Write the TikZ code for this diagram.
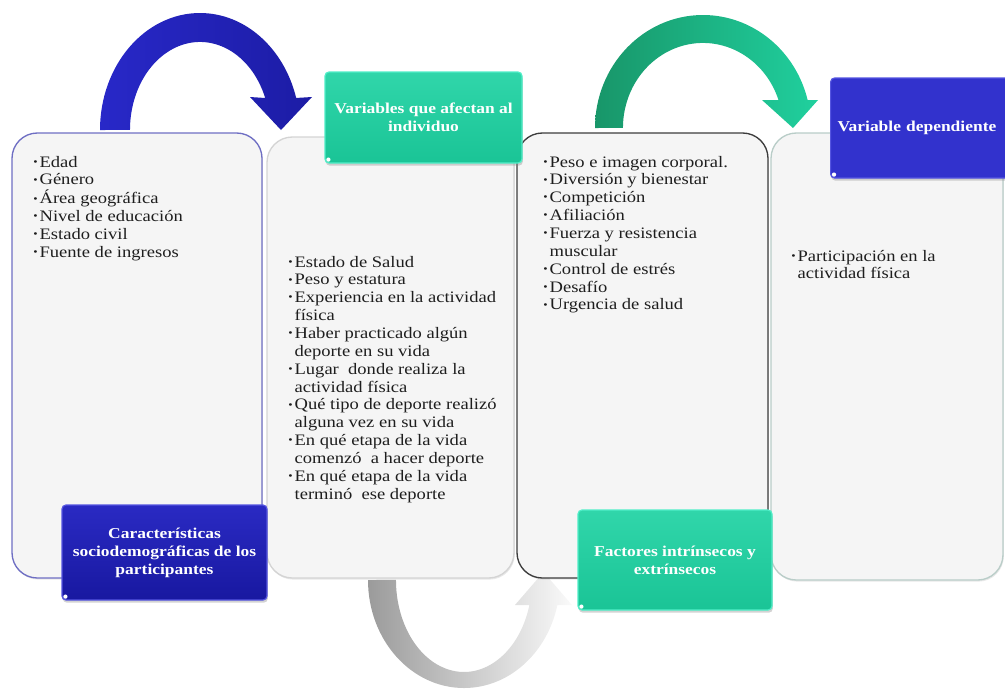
\documentclass[tikz,border=0pt]{standalone}
\usepackage{fontspec}
\setmainfont{Liberation Serif}[FakeStretch=1.16]
\usetikzlibrary{shadows}
\definecolor{boxfill}{RGB}{245,245,245}
\definecolor{txtgray}{RGB}{30,30,30}
\definecolor{b1line}{RGB}{110,110,195}
\definecolor{b2line}{RGB}{212,212,212}
\definecolor{b3line}{RGB}{60,60,60}
\definecolor{b4line}{RGB}{185,205,200}
\definecolor{tealtop}{RGB}{48,214,170}
\definecolor{tealbot}{RGB}{26,196,150}
\definecolor{tealline}{RGB}{80,238,200}
\definecolor{bluedep}{RGB}{50,50,205}
\definecolor{bluedepline}{RGB}{85,85,225}
\definecolor{bluetop}{RGB}{42,42,195}
\definecolor{bluebot}{RGB}{24,24,160}
\definecolor{arcblueL}{RGB}{40,40,200}
\definecolor{arcblueR}{RGB}{28,28,165}
\definecolor{arcgreenL}{RGB}{24,150,105}
\definecolor{arcgreenR}{RGB}{32,208,158}
\definecolor{arcgrayL}{RGB}{155,155,155}
\definecolor{arcgrayR}{RGB}{250,250,250}
\newcommand{\bul}{\raisebox{1.4pt}{\fontsize{8}{8}\selectfont •}}
\begin{document}
\begin{tikzpicture}[x=0.75pt,y=-0.75pt,
  bigbox/.style={rectangle, rounded corners=19pt, fill=boxfill, line width=1pt,
    drop shadow={shadow xshift=0.6pt, shadow yshift=-1.2pt, opacity=0.18}},
  lbl/.style={rectangle, rounded corners=3pt, text=white, line width=0.9pt,
    font=\bfseries\fontsize{11.3}{13.5}\selectfont, align=center, inner sep=0pt,
    drop shadow={shadow xshift=0.6pt, shadow yshift=-2pt, opacity=0.35}},
  listtxt/.style={inner sep=0pt, anchor=base west, text=txtgray,
    font=\fontsize{12}{13.4}\selectfont}
]
\useasboundingbox (0,0) rectangle (1005,690);
\clip (0,0) rectangle (1005,690);

% curved arrows (behind boxes)
\path[left color=arcblueL, right color=arcblueR]
  (100,130) arc[start angle=180, end angle=15.9, x radius=75pt, y radius=87.75pt]
  -- (312,97) -- (281,130) -- (250,97) -- (265.2,98)
  arc[start angle=21.3, end angle=180, x radius=52.5pt, y radius=66pt] -- cycle;
\path[left color=arcgreenL, right color=arcgreenR]
  (595,128) arc[start angle=180, end angle=14.3, x radius=81pt, y radius=84.75pt]
  -- (818,100) -- (793,128) -- (762,100) -- (778.5,100)
  arc[start angle=19.2, end angle=180, x radius=60pt, y radius=63.75pt] -- cycle;
\path[left color=arcgrayL, right color=arcgrayR]
  (368,580) arc[start angle=180, end angle=346.6, x radius=72pt, y radius=81pt]
  -- (572,605) -- (543.5,572) -- (515,605) -- (529.4,605)
  arc[start angle=344.2, end angle=180, x radius=51pt, y radius=69pt] -- cycle;

% big boxes
\node[bigbox, draw=b1line, minimum width=187.5pt, minimum height=333.75pt] (box1) at (137,355.5) {};
\node[bigbox, draw=b2line, minimum width=185.25pt, minimum height=330.75pt] (box2) at (390.5,357.5) {};
\node[bigbox, draw=b3line, minimum width=188.25pt, minimum height=333.75pt] (box3) at (642.5,355.5) {};
\node[bigbox, draw=b4line, minimum width=174pt, minimum height=335.25pt] (box4) at (887,356.5) {};

% lists
\node[listtxt] (list1) at (33,167) {\begin{tabular}[t]{@{}l@{\hspace{1.5pt}}l@{}}
\bul & Edad\\
\bul & Género\\
\bul & Área geográfica\\
\bul & Nivel de educación\\
\bul & Estado civil\\
\bul & Fuente de ingresos
\end{tabular}};
\node[listtxt] (list2) at (288,267) {\begin{tabular}[t]{@{}l@{\hspace{1.5pt}}l@{}}
\bul & Estado de Salud\\
\bul & Peso y estatura\\
\bul & Experiencia en la actividad\\
 & física\\
\bul & Haber practicado algún\\
 & deporte en su vida\\
\bul & Lugar\ \ donde realiza la\\
 & actividad física\\
\bul & Qué tipo de deporte realizó\\
 & alguna vez en su vida\\
\bul & En qué etapa de la vida\\
 & comenzó\ \ a hacer deporte\\
\bul & En qué etapa de la vida\\
 & terminó\ \ ese deporte
\end{tabular}};
\node[listtxt] (list3) at (543,167) {\begin{tabular}[t]{@{}l@{\hspace{1.5pt}}l@{}}
\bul & Peso e imagen corporal.\\
\bul & Diversión y bienestar\\
\bul & Competición\\
\bul & Afiliación\\
\bul & Fuerza y resistencia\\
 & muscular\\
\bul & Control de estrés\\
\bul & Desafío\\
\bul & Urgencia de salud
\end{tabular}};
\node[listtxt] (list4) at (791,261) {\begin{tabular}[t]{@{}l@{\hspace{1.5pt}}l@{}}
\bul & Participación en la\\
 & actividad física
\end{tabular}};

% label boxes
\node[lbl, top color=tealtop, bottom color=tealbot, draw=tealline,
  minimum width=147.75pt, minimum height=68.25pt] (vars) at (423.5,117.5)
  {Variables que afectan al\\individuo};
\node[lbl, fill=bluedep, draw=bluedepline, anchor=west, align=left,
  text width=126pt, inner xsep=5.25pt, minimum height=75pt] (dep) at (830,128)
  {Variable dependiente};
\node[lbl, top color=bluetop, bottom color=bluebot, draw=bluedepline,
  minimum width=153.75pt, minimum height=71.25pt] (carac) at (164.5,552.5)
  {Características\\sociodemográficas de los\\participantes};
\node[lbl, top color=tealtop, bottom color=tealbot, draw=tealline,
  minimum width=145.5pt, minimum height=75pt] (fact) at (675,560)
  {Factores intrínsecos y\\extrínsecos};

% small handles
\foreach \n in {vars,dep,carac,fact}
  \fill[white] ([shift={(4,-4)}]\n.south west) circle (1.6pt);
\end{tikzpicture}
\end{document}
